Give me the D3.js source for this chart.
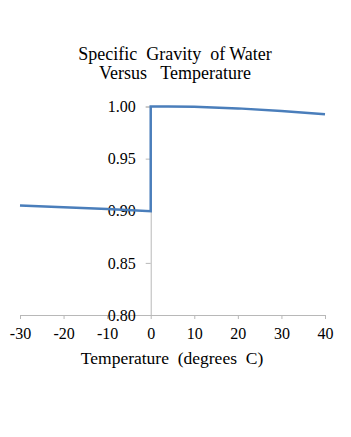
<!DOCTYPE html>
<html>
<head>
<meta charset="utf-8">
<script src="https://cdn.jsdelivr.net/npm/d3@7"></script>
<style>
  body { margin: 0; background: #fff; }
  text { font-family: "Liberation Serif", "Times New Roman", serif; fill: #000; }
</style>
</head>
<body>
<svg></svg>
<script>
// temperature (deg C) and specific gravity, ice then water
const temps = [-30, -20, -10, 0, 0, 4, 10, 20, 30, 40];
const gravity = [0.905, 0.9033, 0.9016, 0.8995, 1.000, 1.000, 0.9997, 0.9982, 0.9957, 0.9925];
const xTicks = [-30, -20, -10, 0, 10, 20, 30, 40];
const yTicks = [0.80, 0.85, 0.90, 0.95, 1.00];

var w = 351;
var h = 437;

let svg = d3.select("svg")
  .attr("width", w)
  .attr("height", h);

let xScale = d3.scaleLinear()
  .domain([-30, 40])
  .range([20, 325]);
let yScale = d3.scaleLinear()
  .domain([0.80, 1.00])
  .range([315, 106.5]);

// title
svg.append("text")
  .attr("x", 175).attr("y", 60)
  .attr("text-anchor", "middle")
  .style("font-size", "18px")
  .style("white-space", "pre")
  .text("Specific  Gravity  of Water");
svg.append("text")
  .attr("x", 175).attr("y", 79)
  .attr("text-anchor", "middle")
  .style("font-size", "18px")
  .style("white-space", "pre")
  .text("Versus   Temperature");

// x axis
let xAxisG = svg.append("g")
  .attr("transform", `translate(0,${yScale(0.80)})`)
  .call(d3.axisBottom(xScale).tickValues(xTicks).tickFormat(d3.format("d")).tickSize(4).tickPadding(9));
xAxisG.select(".domain").attr("stroke", "#b8b8b8");
xAxisG.selectAll(".tick line").attr("stroke", "#b8b8b8");
xAxisG.selectAll(".tick text")
  .style("font-size", "16px")
  .attr("font-family", null)
  .text(d => d < 0 ? "-" + Math.abs(d) : d);

// y axis at zero
let yAxisG = svg.append("g")
  .attr("transform", `translate(${xScale(0)},0)`)
  .call(d3.axisLeft(yScale).tickValues(yTicks).tickFormat(d3.format(".2f")).tickSize(5).tickPadding(10));
yAxisG.select(".domain").attr("stroke", "#b8b8b8");
yAxisG.selectAll(".tick line").attr("stroke", "#b8b8b8");
yAxisG.selectAll(".tick text")
  .style("font-size", "16px")
  .attr("font-family", null);

// x axis label
svg.append("text")
  .attr("x", 172).attr("y", 364)
  .attr("text-anchor", "middle")
  .style("font-size", "17.5px")
  .style("white-space", "pre")
  .text("Temperature  (degrees  C)");

// data line
let line = d3.line()
  .x((d, i) => xScale(temps[i]))
  .y(d => yScale(d));

svg.append("path")
  .datum(gravity)
  .attr("d", line)
  .attr("fill", "none")
  .attr("stroke", "#4a7ebb")
  .attr("stroke-width", 2.5);
</script>
</body>
</html>
